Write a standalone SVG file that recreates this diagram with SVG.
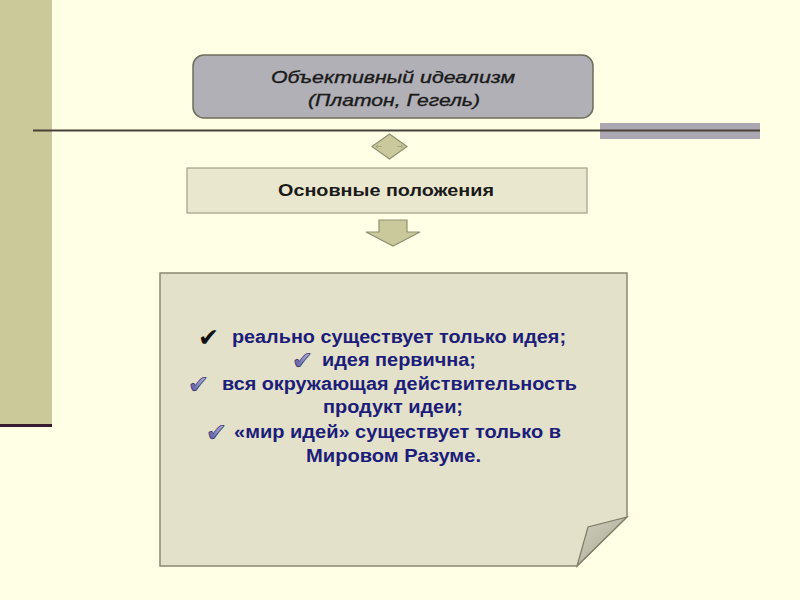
<svg xmlns="http://www.w3.org/2000/svg" width="800" height="600" viewBox="0 0 800 600">
<defs>
<style>
.t{font-family:"Liberation Sans",Arial,sans-serif;}
.hd{font-size:17px;font-style:italic;fill:#1a1a1a;stroke:#1a1a1a;stroke-width:0.35;}
.sub{font-size:17px;font-weight:bold;fill:#1a1a1a;}
.li{font-size:18px;font-weight:bold;fill:#1c1c7a;}
.ck{font-family:"DejaVu Sans",sans-serif;font-size:25px;}
.olive{fill:#c9c99b;stroke:#8f8f70;stroke-width:1.2;}
</style>
<linearGradient id="fold" x1="0" y1="0" x2="1" y2="1">
<stop offset="0" stop-color="#cfcfbd"/>
<stop offset="1" stop-color="#a9a894"/>
</linearGradient>
<linearGradient id="ckg" x1="0" y1="1" x2="1" y2="0">
<stop offset="0" stop-color="#30307a"/>
<stop offset="0.5" stop-color="#8a8ac8"/>
<stop offset="1" stop-color="#c8c8e0"/>
</linearGradient>
</defs>
<rect width="800" height="600" fill="#ffffe6"/>
<g id="decor">
<rect x="0" y="0" width="52" height="425" fill="#cbc899"/>
<rect x="0" y="424" width="52" height="3" fill="#3a1a30"/>
<rect x="600" y="123" width="160" height="16" fill="#aaa6b2"/>
<line x1="33" y1="130.5" x2="760" y2="130.5" stroke="#4a4238" stroke-width="2"/>
</g>
<g id="node-title">
<rect x="193" y="55" width="400" height="63" rx="11" fill="#b0b0b6" stroke="#6d6d5c" stroke-width="1.5"/>
<text class="t hd" x="271" y="83" textLength="244" lengthAdjust="spacingAndGlyphs">Объективный идеализм</text>
<text class="t hd" x="308" y="106" textLength="172" lengthAdjust="spacingAndGlyphs">(Платон, Гегель)</text>
</g>
<g id="connectors">
<path class="olive" d="M389.5 134 L407 146.5 L389.5 159 L372 146.5 Z"/>
<path d="M376 146.5 h6 M376 146.5 l2 -1.5 M376 146.5 l2 1.5 M403 146.5 h-6 M403 146.5 l-2 -1.5 M403 146.5 l-2 1.5" stroke="#a0a082" stroke-width="0.8" fill="none"/>
<path class="olive" d="M379 220 H407 V232 H420 L393 246 L366 232 H379 Z"/>
</g>
<g id="node-main">
<rect x="187" y="168" width="400" height="45" fill="#e9e7cd" stroke="#a3a187" stroke-width="1.2"/>
<text class="t sub" x="278" y="196" textLength="216" lengthAdjust="spacingAndGlyphs">Основные положения</text>
</g>
<g id="node-note">
<path d="M160 273 H627 V517 L577 566 H160 Z" fill="#e3e1c9" stroke="#8a8872" stroke-width="1.5"/>
<path d="M627 517 L588 527 L577 566 Z" fill="url(#fold)" stroke="#7d7b66" stroke-width="1.2"/>
<text class="ck" x="198" y="346" fill="#111">✔</text>
<text class="t li" x="232" y="343" textLength="334" lengthAdjust="spacingAndGlyphs">реально существует только идея;</text>
<text class="ck" x="292" y="369" fill="url(#ckg)" stroke="#20205a" stroke-width="0.6">✔</text>
<text class="t li" x="322" y="366" textLength="154" lengthAdjust="spacingAndGlyphs">идея первична;</text>
<text class="ck" x="188" y="393" fill="url(#ckg)" stroke="#20205a" stroke-width="0.6">✔</text>
<text class="t li" x="222" y="390" textLength="355" lengthAdjust="spacingAndGlyphs">вся окружающая действительность</text>
<text class="t li" x="323" y="413" textLength="140" lengthAdjust="spacingAndGlyphs">продукт идеи;</text>
<text class="ck" x="206" y="441" fill="url(#ckg)" stroke="#20205a" stroke-width="0.6">✔</text>
<text class="t li" x="234" y="438" textLength="327" lengthAdjust="spacingAndGlyphs">«мир идей» существует только в</text>
<text class="t li" x="306" y="462" textLength="175" lengthAdjust="spacingAndGlyphs">Мировом Разуме.</text>
</g>
</svg>
